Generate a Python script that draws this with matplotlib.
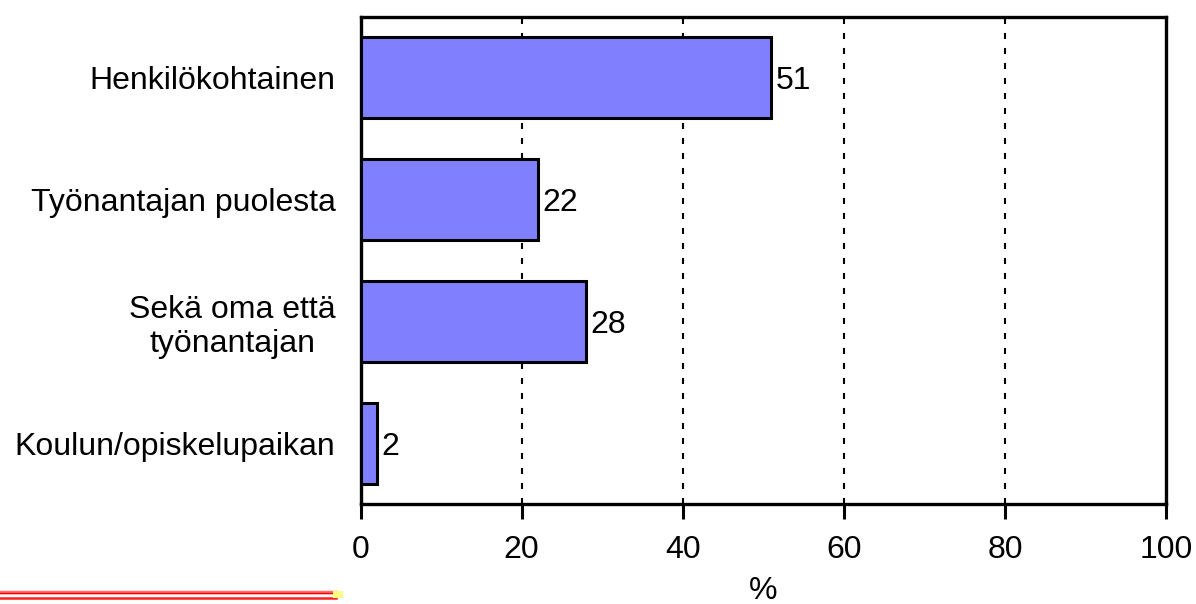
import matplotlib
matplotlib.use("Agg")
import matplotlib.pyplot as plt
from matplotlib.lines import Line2D

categories = ["Henkilökohtainen", "Työnantajan puolesta", "Sekä oma että\ntyönantajan", "Koulun/opiskelupaikan"]
values = [51, 22, 28, 2]
xticks = [0, 20, 40, 60, 80, 100]

plt.rcParams['font.family'] = ['Liberation Sans', 'DejaVu Sans']
FS = 23

W, H = 1196, 604
fig = plt.figure(figsize=(W/100, H/100), dpi=100)
ax = fig.add_axes([360.5/W, 1 - 504/H, (1166-360.5)/W, (504-17)/H])

ypos = list(range(len(categories)))
ax.barh(ypos, values, height=0.665, color='#8080ff', edgecolor='black', linewidth=2.2, zorder=3)
for y, v in zip(ypos, values):
    ax.text(v + 0.6, y, str(v), va='center_baseline', ha='left', fontsize=FS, zorder=4)

ax.set_ylim(len(categories) - 0.5, -0.5)
ax.set_xlim(0, 100)
ax.set_yticks(ypos)
ax.set_yticklabels(categories, fontsize=FS, ha='right', multialignment='center')
ax.tick_params(axis='y', length=0, pad=18)
ax.set_xticks(xticks)
ax.set_xticklabels([str(t) for t in xticks], fontsize=FS)
ax.tick_params(axis='x', length=11, width=2.2, direction='out', pad=11)
ax.set_xlabel('%', fontsize=FS, labelpad=8)

for t in xticks[1:-1]:
    ax.axvline(t, color='black', linestyle=(0, (2.9, 4.3)), linewidth=1.5, zorder=1)

for s in ax.spines.values():
    s.set_linewidth(2.4)

# decorative red lines bottom-left
fig.add_artist(Line2D([0, 336/W], [1 - 591.5/H, 1 - 591.5/H], color='#ff7070', linewidth=2.5, transform=fig.transFigure))
fig.add_artist(Line2D([0, 336/W], [1 - 593/H, 1 - 593/H], color='red', linewidth=1.0, transform=fig.transFigure))
fig.add_artist(Line2D([0, 336/W], [1 - 598/H, 1 - 598/H], color='#ff2020', linewidth=1.8, transform=fig.transFigure))
fig.add_artist(Line2D([336/W, 339/W], [1 - 594/H, 1 - 594/H], color='#ffff80', linewidth=5, transform=fig.transFigure))

fig.savefig('out.png', dpi=100)
